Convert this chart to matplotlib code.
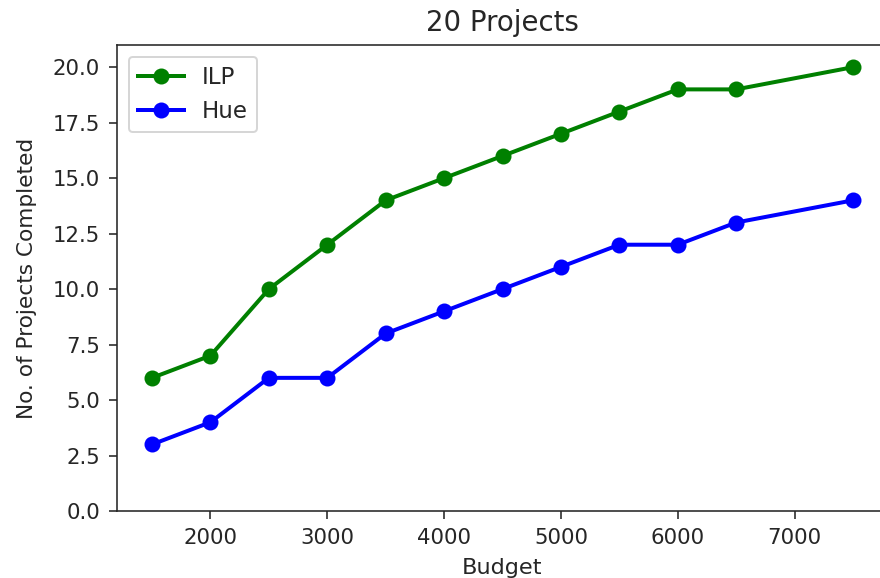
import matplotlib
matplotlib.use("Agg")
import matplotlib.pyplot as plt

budget = [1500, 2000, 2500, 3000, 3500, 4000, 4500, 5000, 5500, 6000, 6500, 7500]
ilp = [6, 7, 10, 12, 14, 15, 16, 17, 18, 19, 19, 20]
hue = [3, 4, 6, 6, 8, 9, 10, 11, 12, 12, 13, 14]

dark = '#262626'
plt.rcParams.update({
    'font.size': 11,
    'text.color': dark,
    'axes.labelcolor': dark,
    'xtick.color': dark,
    'ytick.color': dark,
    'axes.edgecolor': dark,
    'xtick.labelsize': 10.6,
    'ytick.labelsize': 10.6,
    'xtick.major.size': 4,
    'ytick.major.size': 4,
    'xtick.major.pad': 4.5,
    'ytick.major.pad': 4.5,
})

fig = plt.figure(figsize=(880/144, 578/144), dpi=144)
ax = fig.add_axes([117/880, 1 - 511/578, 771/880, 466/578])
ax.plot(budget, ilp, color='green', marker='o', markersize=7, linewidth=2, label='ILP')
ax.plot(budget, hue, color='blue', marker='o', markersize=7, linewidth=2, label='Hue')
ax.set_ylim(0, 21)
ax.set_yticks([0, 2.5, 5, 7.5, 10, 12.5, 15, 17.5, 20])
ax.set_xticks([2000, 3000, 4000, 5000, 6000, 7000])
ax.set_xlabel('Budget', fontsize=11.2, labelpad=5)
ax.set_ylabel('No. of Projects Completed', fontsize=10.8, labelpad=8)
ax.set_title('20 Projects', fontsize=13.8, pad=7)
ax.legend(loc='upper left', fontsize=11.5)
fig.savefig('out.png', dpi=144)
